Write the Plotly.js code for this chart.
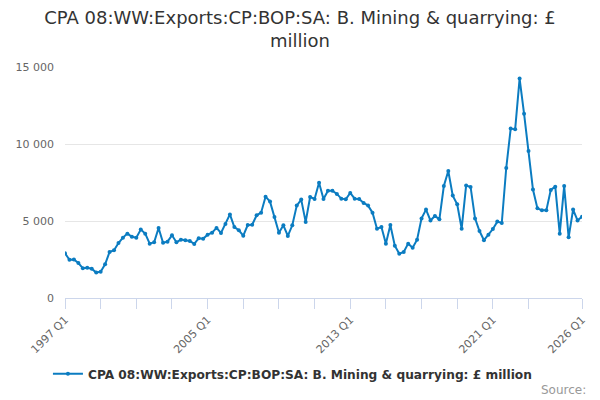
<!DOCTYPE html>
<html>
<head>
<meta charset="utf-8">
<script src="https://cdn.plot.ly/plotly-3.0.1.min.js"></script>
<style>
  html, body { margin: 0; padding: 0; background: #fff; }
  #chart { width: 600px; height: 400px; }
</style>
</head>
<body>
<div id="chart"></div>
<script>
// series name
const seriesName = "CPA 08:WW:Exports:CP:BOP:SA: B. Mining & quarrying: £ million";

// quarter labels, 1997 Q1 .. 2026 Q1
const firstYear = 1997;
const lastYear = 2026;
let quarters = [];
for (let y = firstYear; y <= lastYear; y++) {
    for (let q = 1; q <= 4; q++) {
        if (y === lastYear && q > 1) break;
        quarters.push(y + " Q" + q);
    }
}

// £ million
const exportsValues = [
    2900, 2480, 2500, 2270, 1930, 1970, 1900, 1650, 1710, 2190,
    2990, 3100, 3570, 3920, 4180, 3980, 3920, 4440, 4180, 3530,
    3620, 4550, 3590, 3660, 4070, 3620, 3790, 3750, 3700, 3510,
    3880, 3850, 4110, 4240, 4550, 4220, 4800, 5430, 4610, 4400,
    4050, 4740, 4760, 5370, 5540, 6580, 6260, 5260, 4240, 4720,
    4030, 4720, 6000, 6390, 4940, 6560, 6430, 7490, 6430, 6970,
    6970, 6760, 6450, 6410, 6820, 6450, 6430, 6170, 6000, 5540,
    4500, 4610, 3530, 4740, 3400, 2880, 2990, 3530, 3270, 3790,
    5170, 5740, 5040, 5330, 5110, 7270, 8250, 6650, 6080, 4500,
    7300, 7210, 5170, 4350, 3750, 4110, 4480, 4960, 4870, 8440,
    11000, 10950, 14250, 11970, 9550, 7040, 5820, 5690, 5690, 7020,
    7230, 4180, 7270, 3940, 5740, 5040, 5280
];

// axis ticks
const xTickVals = ["1997 Q1", "1999 Q1", "2001 Q1", "2003 Q1", "2005 Q1", "2007 Q1", "2009 Q1",
    "2011 Q1", "2013 Q1", "2015 Q1", "2017 Q1", "2019 Q1", "2021 Q1", "2023 Q1", "2026 Q1"];
const xTickText = ["1997 Q1", "", "", "", "2005 Q1", "", "", "", "2013 Q1", "", "", "", "2021 Q1", "", "2026 Q1"];
const yTickVals = [0, 5000, 10000, 15000];
const yTickText = ["0", "5 000", "10 000", "15 000"];

const blue = "#0b7cc1";
const grey = "#666666";

var data = [{
    x: quarters,
    y: exportsValues,
    name: seriesName,
    type: "scatter",
    mode: "lines+markers",
    line: { color: blue, width: 2 },
    marker: { color: blue, size: 4 },
    showlegend: true,
    hoverinfo: "x+y",
}];

var layout = {
    width: 600,
    height: 400,
    paper_bgcolor: "#ffffff",
    plot_bgcolor: "#ffffff",
    font: { family: "DejaVu Sans, sans-serif", color: "#333333" },
    margin: { l: 65, r: 18, t: 67, b: 102 },
    title: {
        text: "CPA 08:WW:Exports:CP:BOP:SA: B. Mining & quarrying: £<br>million",
        font: { size: 18, color: "#333333" },
        x: 0.5,
        xanchor: "center",
        yref: "container",
        y: 0.94,
        yanchor: "top",
    },
    xaxis: {
        type: "category",
        range: [0, quarters.length - 1],
        tickvals: xTickVals,
        ticktext: xTickText,
        tickangle: -45,
        ticks: "outside",
        ticklen: 10,
        tickcolor: "#ccd6eb",
        showline: true,
        linecolor: "#ccd6eb",
        linewidth: 1,
        showgrid: false,
        zeroline: false,
        tickfont: { size: 11, color: grey },
        fixedrange: true,
    },
    yaxis: {
        range: [0, 15000],
        tickvals: yTickVals,
        ticktext: yTickText,
        showgrid: true,
        gridcolor: "#e6e6e6",
        zeroline: false,
        showline: false,
        ticks: "",
        ticklabelstandoff: 10,
        tickfont: { size: 11, color: grey },
        fixedrange: true,
    },
    legend: {
        orientation: "h",
        x: -0.033,
        xanchor: "left",
        y: -0.328,
        yanchor: "middle",
        itemwidth: 30,
        font: { size: 12.2, color: "#333333", weight: "bold" },
    },
    annotations: [{
        text: "Source:",
        xref: "paper",
        yref: "paper",
        x: 1.012,
        y: -0.4,
        xanchor: "right",
        yanchor: "middle",
        showarrow: false,
        font: { size: 12, color: "#999999" },
    }],
};

Plotly.newPlot("chart", data, layout, { displayModeBar: false, staticPlot: true });
</script>
</body>
</html>
